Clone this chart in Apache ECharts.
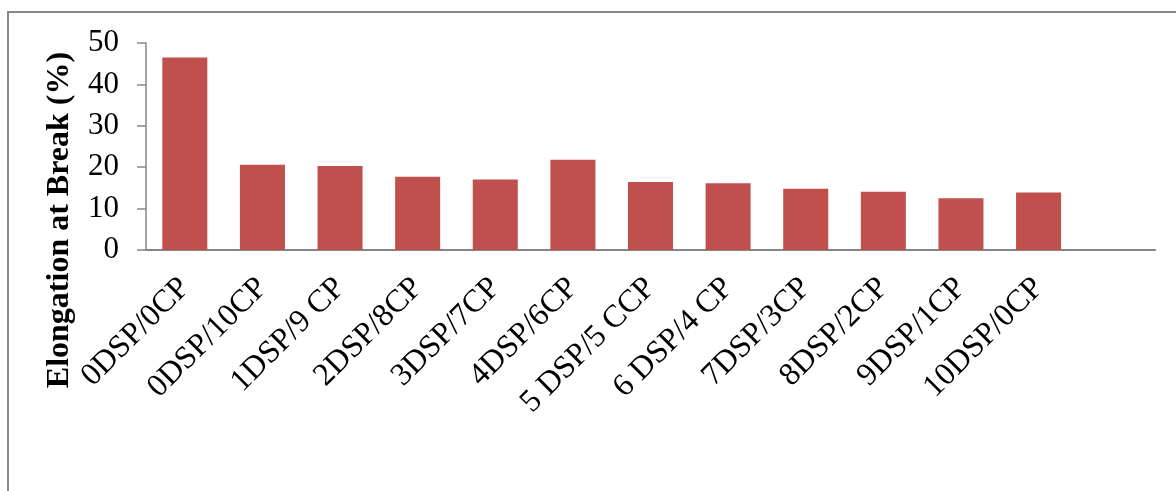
<!DOCTYPE html>
<html>
<head>
<meta charset="utf-8">
<style>
  html, body { margin: 0; padding: 0; background: #ffffff; }
  #chart { width: 1176px; height: 491px; }
</style>
<script src="https://cdn.jsdelivr.net/npm/echarts@6/dist/echarts.min.js"></script>
</head>
<body>
<div id="chart"></div>
<script>
// Sample compositions (DSP/CP loadings); the final slot is left empty on the axis
const categories = [
  '0DSP/0CP', '0DSP/10CP', '1DSP/9 CP', '2DSP/8CP', '3DSP/7CP', '4DSP/6CP',
  '5 DSP/5 CCP', '6 DSP/4 CP', '7DSP/3CP', '8DSP/2CP', '9DSP/1CP', '10DSP/0CP', ''
];
// Elongation at break (%) for each composition
const elongation = [46.5, 20.6, 20.3, 17.7, 17.0, 21.8, 16.4, 16.1, 14.8, 14.1, 12.5, 13.9, null];
// Value axis ticks
const yMin = 0;
const yMax = 50;
const yStep = 10;
const yTitle = 'Elongation at Break (%)';

const serif = '"Liberation Serif", "Times New Roman", serif';
const axisGray = '#868686';

const chart = echarts.init(document.getElementById('chart'), null, { renderer: 'canvas' });

chart.setOption({
  animation: false,
  backgroundColor: '#ffffff',
  grid: { left: 146, right: 21, top: 43, bottom: 241, containLabel: false },
  xAxis: {
    type: 'category',
    data: categories,
    axisLine: { show: true, lineStyle: { color: axisGray, width: 2 } },
    axisTick: { show: false },
    splitLine: { show: false },
    axisLabel: {
      interval: 0,
      rotate: 45,
      margin: 33,
      color: '#000000',
      fontFamily: serif,
      fontSize: 32
    }
  },
  yAxis: {
    type: 'value',
    min: yMin,
    max: yMax,
    interval: yStep,
    axisLine: { show: true, lineStyle: { color: axisGray, width: 1.5 } },
    axisTick: { show: true, inside: false, length: 9, lineStyle: { color: axisGray, width: 1.5 } },
    splitLine: { show: false },
    axisLabel: {
      margin: 27,
      color: '#000000',
      fontFamily: serif,
      fontSize: 31
    }
  },
  series: [{
    type: 'bar',
    data: elongation,
    barCategoryGap: '42%',
    itemStyle: { color: '#C0504D' }
  }],
  graphic: [
    {
      type: 'text',
      x: 60,
      y: 220,
      rotation: Math.PI / 2,
      style: {
        text: yTitle,
        fontFamily: serif,
        fontWeight: 'bold',
        fontSize: 32,
        fill: '#000000',
        align: 'center',
        verticalAlign: 'middle'
      }
    },
    {
      type: 'polyline',
      shape: { points: [[8, 491], [8, 12], [1176, 12]] },
      style: { stroke: '#888888', lineWidth: 2, fill: null }
    }
  ]
});
</script>
</body>
</html>
